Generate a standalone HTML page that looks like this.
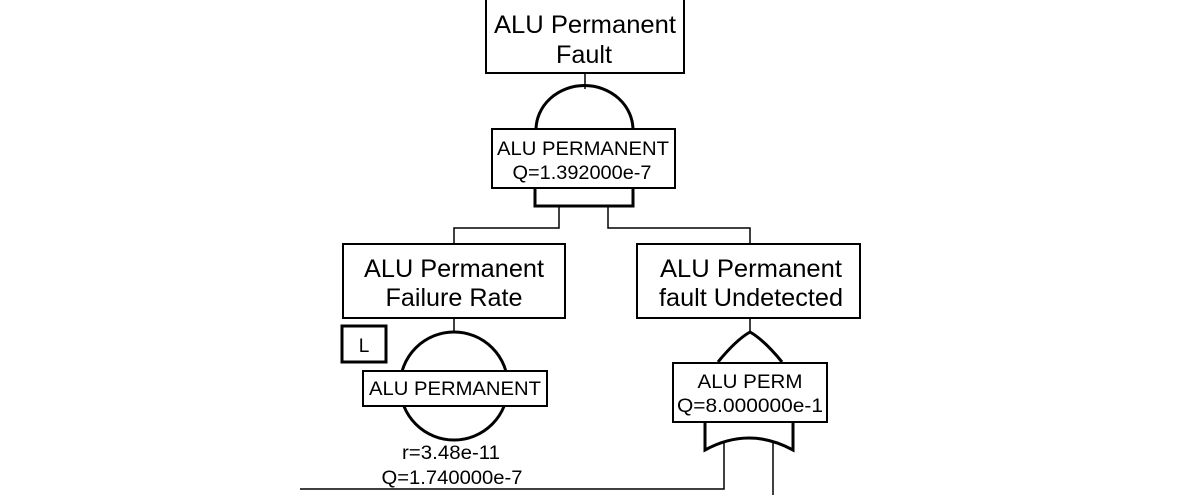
<!DOCTYPE html>
<html><head><style>body{margin:0;background:#fff}svg{display:block}text{font-family:"Liberation Sans",Arial,sans-serif;fill:#000;text-anchor:middle}</style></head>
<body>
<svg width="1203" height="495" viewBox="0 0 1203 495" xmlns="http://www.w3.org/2000/svg" font-family="Liberation Sans, Arial, sans-serif">
<g fill="none" stroke="#000">
<rect x="486" y="-2" width="198" height="75" stroke-width="2"/>
<line x1="585" y1="73" x2="585" y2="89" stroke-width="1.5"/>
<path d="M536,130 A48,44 0 0 1 633,130" stroke-width="3"/>
<path d="M535,188 V206 H633 V188" stroke-width="3"/>
<rect x="492" y="129" width="183" height="59" fill="#fff" stroke-width="2"/>
<path d="M559,206 V228 H454 V244 M608,206 V228 H750 V244" stroke-width="1.5"/>
<rect x="343" y="244" width="222" height="74" stroke-width="2"/>
<rect x="637" y="244" width="223" height="74" stroke-width="2"/>
<line x1="454" y1="318" x2="454" y2="331" stroke-width="1.5"/>
<circle cx="454" cy="386" r="54" stroke-width="3"/>
<rect x="342" y="326" width="44" height="36" stroke-width="3"/>
<rect x="363" y="371" width="184" height="35" fill="#fff" stroke-width="2"/>
<line x1="750" y1="318" x2="750" y2="332" stroke-width="1.5"/>
<path d="M718,362 Q736,340 750,332 Q764,340 782,362" stroke-width="3"/>
<path d="M705,422 V450 Q749,426 793,450 V422" stroke-width="3"/>
<rect x="673" y="363" width="154" height="59" fill="#fff" stroke-width="2"/>
<path d="M300,489 H724 V441 M773,441 V495" stroke-width="1.5"/>
</g>
<g font-size="25">
<text x="585" y="33" textLength="182" lengthAdjust="spacingAndGlyphs">ALU Permanent</text>
<text x="584" y="63" textLength="56" lengthAdjust="spacingAndGlyphs">Fault</text>
<text x="454" y="277" textLength="180" lengthAdjust="spacingAndGlyphs">ALU Permanent</text>
<text x="454" y="306" textLength="137" lengthAdjust="spacingAndGlyphs">Failure Rate</text>
<text x="751" y="277" textLength="182" lengthAdjust="spacingAndGlyphs">ALU Permanent</text>
<text x="751" y="306" textLength="184" lengthAdjust="spacingAndGlyphs">fault Undetected</text>
</g>
<g font-size="19">
<text x="583" y="155" textLength="172" lengthAdjust="spacingAndGlyphs">ALU PERMANENT</text>
<text x="582" y="179" textLength="139" lengthAdjust="spacingAndGlyphs">Q=1.392000e-7</text>
<text x="364" y="352">L</text>
<text x="455" y="395" textLength="172" lengthAdjust="spacingAndGlyphs">ALU PERMANENT</text>
<text x="451" y="459" textLength="98" lengthAdjust="spacingAndGlyphs">r=3.48e-11</text>
<text x="452" y="484" textLength="141" lengthAdjust="spacingAndGlyphs">Q=1.740000e-7</text>
<text x="750" y="388" textLength="105" lengthAdjust="spacingAndGlyphs">ALU PERM</text>
<text x="750" y="412" textLength="146" lengthAdjust="spacingAndGlyphs">Q=8.000000e-1</text>
</g>
</svg>
</body></html>
